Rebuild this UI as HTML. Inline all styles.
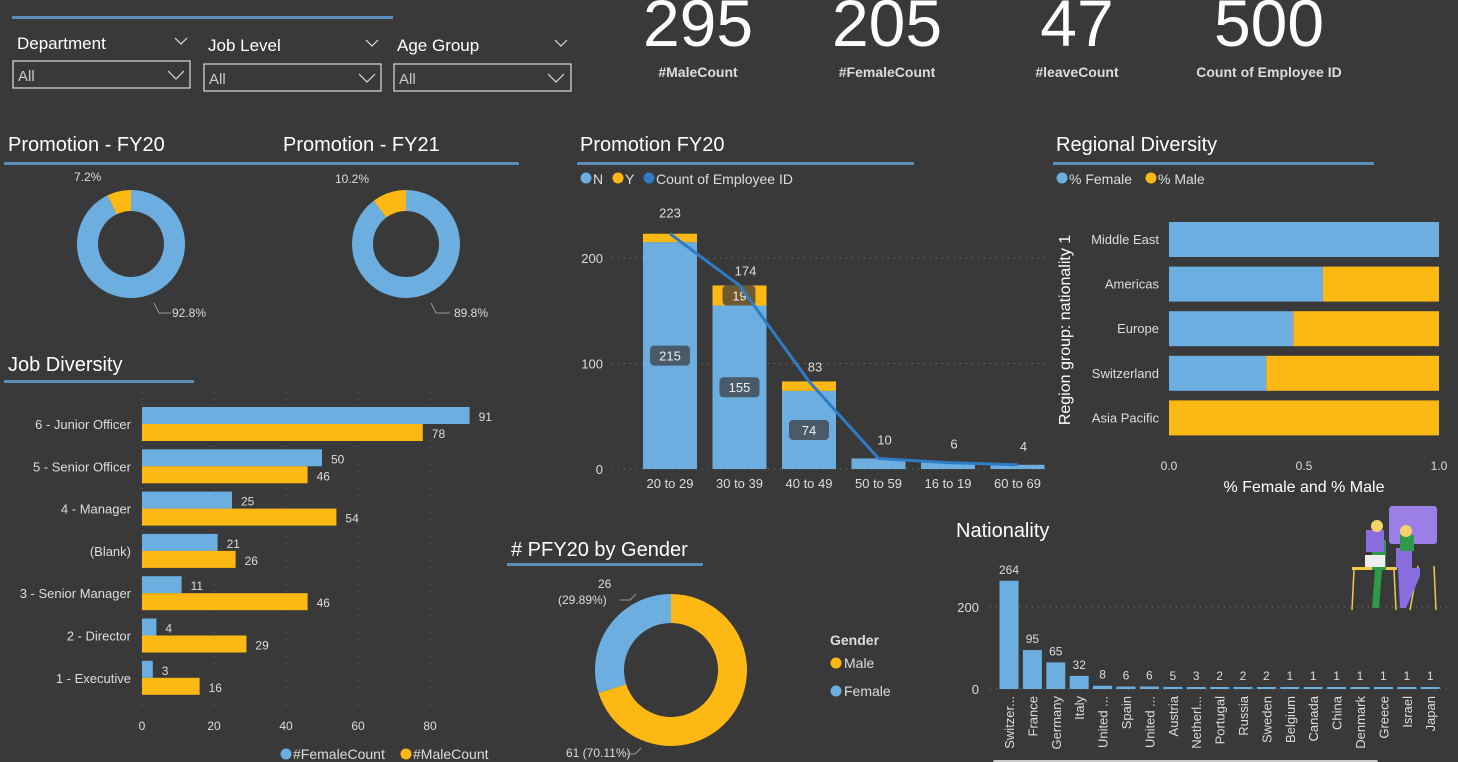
<!DOCTYPE html>
<html><head><meta charset="utf-8">
<style>
html,body{margin:0;padding:0;background:#393939;}
body{width:1458px;height:762px;overflow:hidden;position:relative;font-family:"Liberation Sans",sans-serif;}
svg{position:absolute;left:0;top:0;}
text{font-family:"Liberation Sans",sans-serif;}
</style></head>
<body>
<svg id="s" width="1458" height="762" xmlns="http://www.w3.org/2000/svg">
<rect width="1458" height="762" fill="#393939"/>
<rect x="12" y="16" width="381" height="3" fill="#5b8db8"/>
<g fill="#fff" font-size="17">
<text x="17" y="49">Department</text>
<text x="208" y="51">Job Level</text>
<text x="397" y="51">Age Group</text>
</g>
<g stroke="#ddd" fill="none" stroke-width="1.2">
<path d="M175 38l6 6 6-6M366 40l6 6 6-6M555 40l6 6 6-6"/>
<rect x="13" y="61" width="177" height="27"/>
<rect x="204" y="64" width="177" height="27"/>
<rect x="394" y="64" width="177" height="27"/>
<path d="M168 71l8 8 8-8M359 74l8 8 8-8M548 74l8 8 8-8"/>
</g>
<g fill="#ccc" font-size="15">
<text x="18" y="81">All</text><text x="209" y="84">All</text><text x="399" y="84">All</text>
</g>
<g fill="#fff" font-size="66" text-anchor="middle">
<text x="698" y="46">295</text>
<text x="887" y="46">205</text>
<text x="1077" y="46">47</text>
<text x="1269" y="46">500</text>
</g>
<g fill="#ddd" font-size="14" font-weight="bold" text-anchor="middle">
<text x="698" y="77">#MaleCount</text><text x="887" y="77">#FemaleCount</text>
<text x="1077" y="77">#leaveCount</text><text x="1269" y="77">Count of Employee ID</text>
</g>
<g fill="#fff" font-size="20">
<text x="8" y="151">Promotion - FY20</text>
<text x="283" y="151">Promotion - FY21</text>
<text x="580" y="151">Promotion FY20</text>
<text x="1056" y="151">Regional Diversity</text>
<text x="8" y="371">Job Diversity</text>
<text x="511" y="556"># PFY20 by Gender</text>
<text x="956" y="537">Nationality</text>
</g>
<g fill="#5b8db8">
<rect x="4" y="162" width="515" height="3"/><rect x="577" y="162" width="337" height="3"/>
<rect x="1053" y="162" width="321" height="3"/><rect x="4" y="380" width="190" height="3"/>
<rect x="507" y="563" width="196" height="3"/>
</g>
<g id="dyn"></g>
</svg>
<script>
const NS="http://www.w3.org/2000/svg";
const dyn=document.getElementById('dyn');
function el(t,a,txt,p){const e=document.createElementNS(NS,t);for(const k in a)e.setAttribute(k,a[k]);if(txt!==undefined)e.textContent=txt;(p||dyn).appendChild(e);return e;}
const BLUE="#6caee0",GOLD="#fdb813",DBLUE="#2f7bc4",TXT="#ddd";

const promoFY20=[92.8,7.2];
const promoFY21=[89.8,10.2];
const genderLabels=["Female","Male"];
const genderValues=[26,61];

function donut(cx,cy,ro,ri,vals,cols,name,rot){
  const tot=vals.reduce((a,b)=>a+b,0);let a0=0;
  vals.forEach((v,i)=>{
    const a1=a0+v/tot*2*Math.PI;
    const p=(r,a)=>[cx+r*Math.sin(a),cy-r*Math.cos(a)];
    const large=(a1-a0)>Math.PI?1:0;
    const [x1,y1]=p(ro,a0),[x2,y2]=p(ro,a1),[x3,y3]=p(ri,a1),[x4,y4]=p(ri,a0);
    const s=el('path',{d:`M${x1} ${y1}A${ro} ${ro} 0 ${large} 1 ${x2} ${y2}L${x3} ${y3}A${ri} ${ri} 0 ${large} 0 ${x4} ${y4}Z`,fill:cols[i],transform:`rotate(${rot||0} ${cx} ${cy})`});
    
    
    a0=a1;
  });
}
donut(131,244,54,33,[promoFY20[1],promoFY20[0]],[GOLD,BLUE],'promotion-fy20',-promoFY20[1]*3.6);
donut(406,244,54,33,[promoFY21[1],promoFY21[0]],[GOLD,BLUE],'promotion-fy21',-promoFY21[1]*3.6);
el('text',{x:74,y:181,fill:TXT,'font-size':12},promoFY20[1].toFixed(1)+'%');
el('text',{x:172,y:317,fill:TXT,'font-size':12},promoFY20[0].toFixed(1)+'%');
el('text',{x:335,y:183,fill:TXT,'font-size':12},promoFY21[1].toFixed(1)+'%');
el('text',{x:454,y:317,fill:TXT,'font-size':12},promoFY21[0].toFixed(1)+'%');
el('path',{d:'M154 303l5 10h12M431 303l5 10h14',stroke:'#999',fill:'none'});
donut(671,670,76,47,[genderValues[1],genderValues[0]],[GOLD,BLUE],'gender',0);
const gt=genderValues[0]+genderValues[1];
el('text',{x:598,y:588,fill:TXT,'font-size':12},String(genderValues[0]));
el('text',{x:558,y:604,fill:TXT,'font-size':12},'('+(genderValues[0]/gt*100).toFixed(2)+'%)');
el('text',{x:566,y:757,fill:TXT,'font-size':12},genderValues[1]+' ('+(genderValues[1]/gt*100).toFixed(2)+'%)');
el('path',{d:'M620 600h10l6-6M641 748l-6 6h-8',stroke:'#999',fill:'none'});
el('text',{x:830,y:645,fill:TXT,'font-size':14,'font-weight':'bold'},'Gender');
[['Male',GOLD,668],['Female',BLUE,696]].forEach(([l,c,y])=>{el('circle',{cx:836,cy:y-5,r:5.5,fill:c});el('text',{x:844,y:y,fill:TXT,'font-size':14},l);});

const ageCats=["20 to 29","30 to 39","40 to 49","50 to 59","16 to 19","60 to 69"];
const ageN=[215,155,74,10,6,4];
const ageY=[8,19,9,0,0,0];
const ageTotal=[223,174,83,10,6,4];
const ay=v=>469-v*1.055, ax=i=>670+i*69.5;
[0,100,200].forEach(t=>{el('line',{x1:612,x2:1045,y1:ay(t),y2:ay(t),stroke:'#777','stroke-dasharray':'1 5'});el('text',{x:603,y:ay(t)+5,fill:TXT,'font-size':13,'text-anchor':'end'},t);});
[['N',BLUE,580],['Y',GOLD,612],['Count of Employee ID',DBLUE,643]].forEach(([l,c,x])=>{el('circle',{cx:x+6,cy:178,r:5.5,fill:c});el('text',{x:x+13,y:184,fill:TXT,'font-size':14},l);});
ageCats.forEach((c,i)=>{
  const x=ax(i)-27;
  const b=el('rect',{x:x,y:ay(ageN[i]),width:54,height:ageN[i]*1.055,fill:BLUE});
  
  
  if(ageY[i]>0){const g=el('rect',{x:x,y:ay(ageN[i]+ageY[i]),width:54,height:ageY[i]*1.055,fill:GOLD});
  
  }
  el('text',{x:ax(i),y:488,fill:TXT,'font-size':13,'text-anchor':'middle'},c);
  if(ageN[i]>50){const m=ay(ageN[i]/2);el('rect',{x:ax(i)-20,y:m-10,width:40,height:20,rx:4,fill:'#4a5a68'});el('text',{x:ax(i),y:m+5,fill:'#eee','font-size':13,'text-anchor':'middle'},ageN[i]);}
});
el('rect',{x:ax(1)-17,y:ay(ageN[1]+ageY[1]/2)-10,width:33,height:20,rx:4,fill:'#6e5a30'});
el('text',{x:ax(1),y:ay(ageN[1]+ageY[1]/2)+5,fill:'#eee','font-size':13,'text-anchor':'middle'},ageY[1]);
const lp=ageTotal.map((v,i)=>ax(i)+','+ay(v)).join(' ');
const ln=el('polyline',{points:lp,fill:'none',stroke:DBLUE,'stroke-width':3});


ageTotal.forEach((v,i)=>el('text',{x:ax(i)+(i==0?0:6),y:ay(v)-(i==0?16:i<3?10:14),fill:TXT,'font-size':13,'text-anchor':'middle'},v));

const regions=["Middle East","Americas","Europe","Switzerland","Asia Pacific"];
const pctFemale=[1.0,0.57,0.46,0.36,0.0];
const rx=v=>1169+v*270;
el('text',{x:0,y:0,fill:'#fff','font-size':16,transform:'translate(1070 330) rotate(-90)','text-anchor':'middle'},'Region group: nationality 1');
[['% Female',BLUE,1056],['% Male',GOLD,1145]].forEach(([l,c,x])=>{el('circle',{cx:x+6,cy:178,r:5.5,fill:c});el('text',{x:x+13,y:184,fill:TXT,'font-size':14},l);});
regions.forEach((r,i)=>{
  const cy=239+i*44.6;
  const f=el('rect',{x:rx(0),y:cy-17,width:pctFemale[i]*270,height:35,fill:BLUE});
  
  
  const m=el('rect',{x:rx(pctFemale[i]),y:cy-17,width:(1-pctFemale[i])*270,height:35,fill:GOLD});
  
  
  el('text',{x:1159,y:cy+5,fill:TXT,'font-size':13,'text-anchor':'end'},r);
});
['0.0','0.5','1.0'].forEach((t,i)=>el('text',{x:rx(i*0.5),y:470,fill:TXT,'font-size':12,'text-anchor':'middle'},t));
el('text',{x:1304,y:492,fill:'#fff','font-size':16,'text-anchor':'middle'},'% Female and % Male');

const jobs=["6 - Junior Officer","5 - Senior Officer","4 - Manager","(Blank)","3 - Senior Manager","2 - Director","1 - Executive"];
const jobFemale=[91,50,25,21,11,4,3];
const jobMale=[78,46,54,26,46,29,16];
const jx=v=>142+v*3.6;
[0,20,40,60,80].forEach(t=>{el('line',{x1:jx(t),x2:jx(t),y1:392,y2:705,stroke:'#666','stroke-dasharray':'1 5'});el('text',{x:jx(t),y:730,fill:TXT,'font-size':12,'text-anchor':'middle'},t);});
jobs.forEach((j,i)=>{
  const y=407+i*42.3;
  const f=el('rect',{x:jx(0),y:y,width:jobFemale[i]*3.6,height:17,fill:BLUE});
  
  
  const m=el('rect',{x:jx(0),y:y+17,width:jobMale[i]*3.6,height:17,fill:GOLD});
  
  
  el('text',{x:jx(jobFemale[i])+9,y:y+14,fill:TXT,'font-size':12},jobFemale[i]);
  el('text',{x:jx(jobMale[i])+9,y:y+31,fill:TXT,'font-size':12},jobMale[i]);
  el('text',{x:131,y:y+22,fill:TXT,'font-size':13,'text-anchor':'end'},j);
});
[['#FemaleCount',BLUE,280],['#MaleCount',GOLD,400]].forEach(([l,c,x])=>{el('circle',{cx:x+6,cy:754,r:5.5,fill:c});el('text',{x:x+13,y:759,fill:TXT,'font-size':14},l);});

const nations=["Switzer...","France","Germany","Italy","United ...","Spain","United ...","Austria","Netherl...","Portugal","Russia","Sweden","Belgium","Canada","China","Denmark","Greece","Israel","Japan"];
const natCount=[264,95,65,32,8,6,6,5,3,2,2,2,1,1,1,1,1,1,1];
const ny=v=>689-v*0.41, nx=i=>1009+i*23.4;
[0,200].forEach(t=>{el('line',{x1:990,x2:1448,y1:ny(t),y2:ny(t),stroke:'#777','stroke-dasharray':'1 5'});el('text',{x:979,y:ny(t)+5,fill:TXT,'font-size':13,'text-anchor':'end'},t);});
nations.forEach((n,i)=>{
  const h=Math.max(natCount[i]*0.41,2);
  const b=el('rect',{x:nx(i)-9.5,y:689-h,width:19,height:h,fill:BLUE});
  
  
  el('text',{x:nx(i),y:689-h-7,fill:TXT,'font-size':12,'text-anchor':'middle'},natCount[i]);
  el('text',{x:0,y:0,fill:TXT,'font-size':13,'text-anchor':'end',transform:`translate(${nx(i)+5} 696) rotate(-90)`},n);
});
const ill=el('g',{});


el('rect',{x:1389,y:506,width:48,height:38,rx:3,fill:'#9b7ee6'},undefined,ill);
el('rect',{x:1352,y:567,width:45,height:3,fill:'#f2c94c'},undefined,ill);
el('path',{d:'M1354 570l-2 40M1394 570l2 40M1418 566l-8 44M1434 566l2 44',stroke:'#f2c94c','stroke-width':1.5},undefined,ill);
el('path',{d:'M1372 540h14v30h-14zM1375 570l-3 38h7l3-38z',fill:'#2e9a4a'},undefined,ill);
el('rect',{x:1366,y:530,width:18,height:22,fill:'#8a6ee0'},undefined,ill);
el('circle',{cx:1377,cy:526,r:6,fill:'#f4d36b'},undefined,ill);
el('path',{d:'M1396 548h16v20h-16zM1398 568h22v8l-14 32h-6z',fill:'#8a6ee0'},undefined,ill);
el('rect',{x:1400,y:535,width:14,height:16,fill:'#2e9a4a'},undefined,ill);
el('circle',{cx:1406,cy:531,r:6,fill:'#f4d36b'},undefined,ill);
el('rect',{x:1365,y:555,width:20,height:12,fill:'#eee'},undefined,ill);
el('rect',{x:993,y:760,width:385,height:4,rx:2,fill:'#ccc'});
</script>
</body></html>
